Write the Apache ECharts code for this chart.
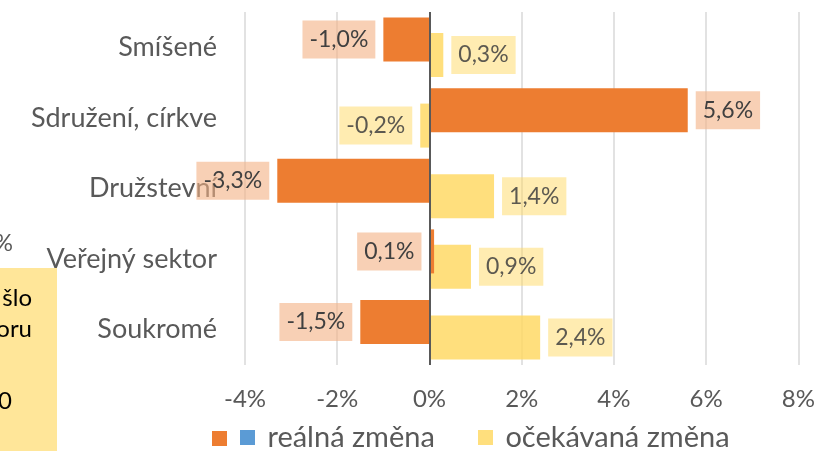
<!DOCTYPE html>
<html>
<head>
<meta charset="utf-8">
<script src="https://cdn.jsdelivr.net/npm/echarts@6/dist/echarts.min.js"></script>
<style>
  html, body { margin: 0; padding: 0; background: #fff; }
  #chart { width: 818px; height: 451px; }
</style>
</head>
<body>
<div id="chart"></div>
<script>
// Sectors, listed top to bottom
const categories = ['Smíšené', 'Sdružení, církve', 'Družstevní', 'Veřejný sektor', 'Soukromé'];
// Year-on-year change in %
const realChange = [-1.0, 5.6, -3.3, 0.1, -1.5];
const expectedChange = [0.3, -0.2, 1.4, 0.9, 2.4];
const xTicks = [-4, -2, 0, 2, 4, 6, 8];

const realName = 'reálná změna';
const realAltName = 'reálná změna ';
const expectedName = 'očekávaná změna';

const FONT = 'Lato, "Open Sans", sans-serif';
const fmtPct = v => v.toFixed(1).replace('.', ',') + '%';

// small positive values whose label sits on the base side
const labelOnBaseSide = ['Veřejný sektor'];

function buildItems(values, opts) {
  return values.map((v, i) => {
    let side = v < 0 ? 'left' : 'right';
    if (opts.flip && opts.flip.includes(categories[i])) side = 'left';
    return { value: v, label: { position: side } };
  });
}

const labelBase = {
  show: true,
  distance: 8,
  formatter: p => fmtPct(p.value),
  fontFamily: FONT,
  fontSize: 23,
  color: '#404040',
  padding: [9, 7, 9, 7],
  lineHeight: 20
};

const legendText = { fontFamily: FONT, fontSize: 29, color: '#595959', padding: [0, 0, 8, 0] };
const legendCommon = {
  top: 423, padding: 0, itemWidth: 15, itemHeight: 15, icon: 'rect', textStyle: legendText
};

const chart = echarts.init(document.getElementById('chart'), null, { renderer: 'canvas' });

chart.setOption({
  animation: false,
  textStyle: { fontFamily: FONT },
  grid: { left: 245, right: 19, top: 12, bottom: 86, containLabel: false },
  xAxis: {
    type: 'value',
    min: xTicks[0],
    max: xTicks[xTicks.length - 1],
    interval: 2,
    axisLine: { show: false },
    axisTick: { show: false },
    axisLabel: {
      formatter: v => v + '%',
      fontFamily: FONT,
      fontSize: 24,
      color: '#595959',
      margin: 22
    },
    splitLine: { lineStyle: { color: '#D9D9D9', width: 1.5 } }
  },
  yAxis: {
    type: 'category',
    data: categories,
    inverse: true,
    axisLine: { show: false },
    axisTick: { show: false },
    axisLabel: {
      fontFamily: FONT,
      fontSize: 27,
      color: '#595959',
      margin: 28
    }
  },
  legend: [
    Object.assign({}, legendCommon, { data: [realName], left: 212, top: 431, formatter: () => '' }),
    Object.assign({}, legendCommon, { data: [realAltName], left: 240, formatter: () => ' ' + realName }),
    Object.assign({}, legendCommon, { data: [expectedName], left: 478, formatter: n => ' ' + n })
  ],
  graphic: [
    {
      type: 'rect',
      left: 0, top: 268,
      shape: { width: 57, height: 183 },
      style: { fill: '#FFE699' },
      z: 1
    },
    {
      type: 'text',
      x: 32, y: 298,
      style: { text: 'šlo', fontFamily: FONT, fontSize: 24, fill: '#000', align: 'right', verticalAlign: 'middle' },
      z: 2
    },
    {
      type: 'text',
      x: 32, y: 329,
      style: { text: 'oru', fontFamily: FONT, fontSize: 24, fill: '#000', align: 'right', verticalAlign: 'middle' },
      z: 2
    },
    {
      type: 'text',
      x: 12, y: 401,
      style: { text: '0', fontFamily: FONT, fontSize: 24, fill: '#000', align: 'right', verticalAlign: 'middle' },
      z: 2
    },
    {
      type: 'text',
      x: 13, y: 244,
      style: { text: '%', fontFamily: FONT, fontSize: 23, fill: '#595959', align: 'right', verticalAlign: 'middle' },
      z: 2
    }
  ],
  series: [
    {
      name: realName,
      type: 'bar',
      stack: 'real',
      barWidth: 44,
      barGap: '-65%',
      z: 3,
      itemStyle: { color: '#ED7D31' },
      label: Object.assign({}, labelBase, { backgroundColor: 'rgba(244,177,131,0.6)' }),
      data: buildItems(realChange, { flip: labelOnBaseSide })
    },
    {
      name: realAltName,
      type: 'bar',
      stack: 'real',
      barWidth: 44,
      itemStyle: { color: '#5B9BD5' },
      data: realChange.map(() => null)
    },
    {
      name: expectedName,
      type: 'bar',
      barWidth: 44,
      barGap: '-65%',
      z: 2,
      itemStyle: { color: '#FFD966', opacity: 0.85 },
      label: Object.assign({}, labelBase, { backgroundColor: 'rgba(255,217,102,0.6)' }),
      data: buildItems(expectedChange, {}),
      markLine: {
        silent: true,
        symbol: 'none',
        label: { show: false },
        lineStyle: { color: '#595959', width: 2, type: 'solid' },
        data: [{ xAxis: 0 }]
      }
    }
  ]
});
</script>
</body>
</html>
